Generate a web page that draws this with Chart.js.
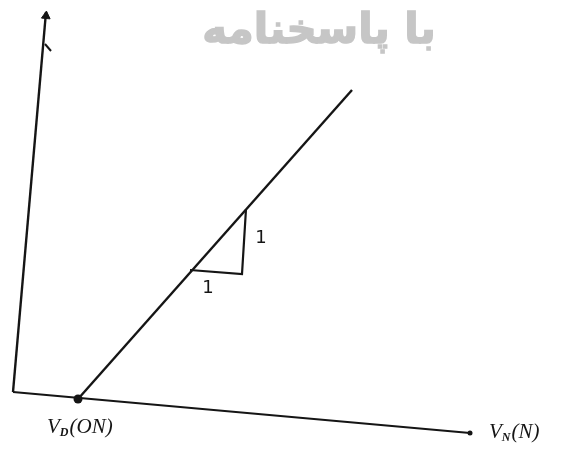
<!DOCTYPE html>
<html>
<head>
<meta charset="utf-8">
<script src="https://cdn.jsdelivr.net/npm/chart.js@4"></script>
<style>
  html, body { margin: 0; padding: 0; background: #fff; }
  canvas { display: block; }
</style>
</head>
<body>
<canvas id="diode" width="568" height="453"></canvas>
<script>
/* ── Sketch geometry (page units, y grows downward) ───────────────────── */
const axisVert   = [{ x: 13, y: 392 }, { x: 46, y: 12 }];
const axisHoriz  = [{ x: 13, y: 392 }, { x: 470, y: 433 }];
const charLine   = [{ x: 78, y: 399 }, { x: 352, y: 90 }];
const slopeTri   = [{ x: 246, y: 209 }, { x: 242, y: 274 }, { x: 190, y: 270 }];
const hookMark   = [{ x: 45, y: 44 }, { x: 51, y: 51 }];

const knee       = [{ x: 78, y: 399 }];
const arrowEnd   = [{ x: 470, y: 433 }];
const arrowTop   = [{ x: 46, y: 16 }];

const slopeLabels = [
  { x: 261, y: 238, text: '1' },
  { x: 208, y: 288, text: '1' },
];
const kneeLabel  = { x: 47, y: 427, main: 'V', sub: 'D', tail: '(ON)' };
const axisLabel  = { x: 489, y: 432, main: 'V', sub: 'N', tail: '(N)' };
const watermark  = { x: 319, y: 32, text: 'با پاسخنامه' };

const INK = '#151515';

/* ── Text overlay ─────────────────────────────────────────────────────── */
const textPlugin = {
  id: 'sketchText',
  beforeDatasetsDraw(chart) {
    const { ctx, scales: { x, y } } = chart;
    ctx.save();
    ctx.font = 'bold 42px "DejaVu Sans"';
    ctx.fillStyle = '#c6c6c6';
    ctx.strokeStyle = '#c6c6c6';
    ctx.lineWidth = 1.5;
    ctx.direction = 'rtl';
    ctx.textAlign = 'center';
    ctx.textBaseline = 'middle';
    const wx = x.getPixelForValue(watermark.x), wy = y.getPixelForValue(watermark.y);
    ctx.fillText(watermark.text, wx, wy);
    ctx.strokeText(watermark.text, wx, wy);
    ctx.restore();
  },
  afterDatasetsDraw(chart) {
    const { ctx, scales: { x, y } } = chart;
    ctx.save();
    ctx.fillStyle = INK;
    ctx.textBaseline = 'middle';
    ctx.font = '18px "DejaVu Sans"';
    ctx.textAlign = 'center';
    slopeLabels.forEach(l => ctx.fillText(l.text, x.getPixelForValue(l.x), y.getPixelForValue(l.y)));

    ctx.textAlign = 'left';
    [kneeLabel, axisLabel].forEach(l => {
      let px = x.getPixelForValue(l.x);
      const py = y.getPixelForValue(l.y);
      ctx.font = 'italic 21px "Liberation Serif"';
      ctx.fillText(l.main, px, py);
      px += ctx.measureText(l.main).width;
      ctx.font = 'italic bold 12px "Liberation Serif"';
      ctx.fillText(l.sub, px, py + 6);
      px += ctx.measureText(l.sub).width + 1;
      ctx.font = 'italic 21px "Liberation Serif"';
      ctx.fillText(l.tail, px, py);
    });
    ctx.restore();
  },
};

const line = (data, width) => ({
  data, showLine: true, borderColor: INK, borderWidth: width,
  pointRadius: 0, fill: false, tension: 0,
});

new Chart(document.getElementById('diode'), {
  type: 'scatter',
  data: {
    datasets: [
      line(axisVert, 2.4),
      line(axisHoriz, 2),
      line(charLine, 2.4),
      line(slopeTri, 2.2),
      line(hookMark, 2),
      { data: knee, pointRadius: 4.5, pointBackgroundColor: INK, pointBorderWidth: 0 },
      { data: arrowEnd, pointRadius: 2.5, pointBackgroundColor: INK, pointBorderWidth: 0 },
      { data: arrowTop, pointStyle: 'triangle', pointRotation: 5, pointRadius: 5,
        pointBackgroundColor: INK, pointBorderColor: INK, pointBorderWidth: 1 },
    ],
  },
  options: {
    responsive: false, animation: false, devicePixelRatio: 1,
    layout: { padding: 0, autoPadding: false },
    plugins: { legend: { display: false }, tooltip: { enabled: false } },
    scales: {
      x: { type: 'linear', min: 0, max: 568, display: false },
      y: { type: 'linear', min: 0, max: 453, reverse: true, display: false },
    },
  },
  plugins: [textPlugin],
});
</script>
</body>
</html>
